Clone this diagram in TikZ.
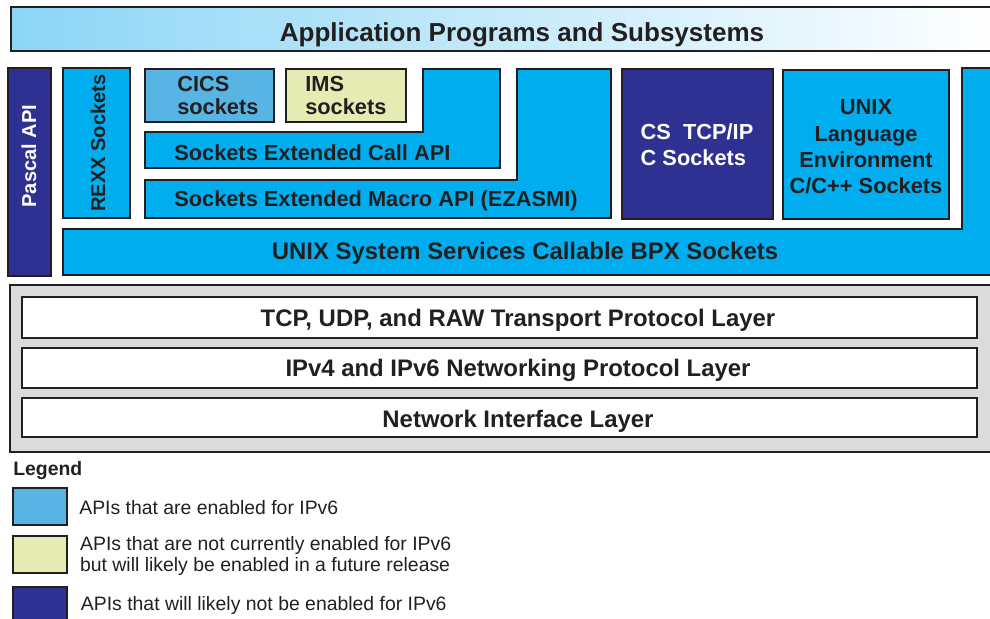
\documentclass[tikz,border=0pt]{standalone}
\usepackage{fontspec}
\setmainfont{Liberation Sans}
\usetikzlibrary{positioning}
\definecolor{edgec}{HTML}{231F20}
\definecolor{cyanapi}{HTML}{00AEEF}
\definecolor{lightapi}{HTML}{58B4E3}
\definecolor{paleapi}{HTML}{E6EBB4}
\definecolor{navyapi}{HTML}{2E3192}
\definecolor{layergray}{HTML}{DADBDC}
\definecolor{titleblue}{HTML}{8CD6F6}
\begin{document}
\begin{tikzpicture}[x=0.025cm, y=-0.025cm,
            api/.style={draw=edgec, line width=1.3pt},
            boxtext/.style={text=edgec, inner sep=0pt, font=\bfseries\fontsize{15.5}{18.5}\selectfont},
            sidetext/.style={text=edgec, inner sep=0pt, rotate=90, font=\bfseries\fontsize{14.3}{17}\selectfont},
            bigtext/.style={text=edgec, inner sep=0pt, font=\bfseries\fontsize{17}{20}\selectfont},
            keytext/.style={text=edgec, inner sep=0pt, font=\fontsize{13.8}{14.9}\selectfont},
            legendkey/.style={draw=edgec, line width=1.3pt, minimum width=1.35cm, minimum height=0.93cm, anchor=north west, inner sep=0pt},
        ]
            \useasboundingbox (0,0) rectangle (990,618);
            \clip (0,0) rectangle (990,618);
            \draw[api, left color=titleblue, right color=white] (11,7) rectangle (1000,51);
            \node[bigtext, font=\bfseries\fontsize{18.5}{22}\selectfont] (titlenode) at (522,35) {Application Programs and Subsystems};

            \draw[api, fill=navyapi] (8,68) rectangle (51,276);
            \node[sidetext, text=white] (pascalnode) at (29,156) {Pascal API};
            \draw[api, fill=cyanapi] (63,68) rectangle (130,218);
            \node[sidetext] (rexxnode) at (98,143) {REXX Sockets};
            \draw[api, fill=lightapi] (145,69) rectangle (274,122);
            \node[boxtext, anchor=west, font=\bfseries\fontsize{15.5}{16.4}\selectfont] (cicsnode) at (177,98) {\begin{tabular}{@{}l@{}} CICS \\ sockets \end{tabular}};
            \draw[api, fill=paleapi] (286,69) rectangle (406,122);
            \node[boxtext, anchor=west, font=\bfseries\fontsize{15.5}{16.4}\selectfont] (imsnode) at (305,98) {\begin{tabular}{@{}l@{}} IMS \\ sockets \end{tabular}};
            \draw[api, fill=cyanapi] (145,132) -- (423,132) -- (423,69) -- (500,69) -- (500,168) -- (145,168) -- cycle;
            \node[boxtext, anchor=west] (callnode) at (174,153) {Sockets Extended Call API};
            \draw[api, fill=cyanapi] (145,180) -- (517,180) -- (517,69) -- (611,69) -- (611,218) -- (145,218) -- cycle;
            \node[boxtext, anchor=west] (macronode) at (174,201) {Sockets Extended Macro API (EZASMI)};
            \draw[api, fill=navyapi] (622,69) rectangle (773,219);
            \node[boxtext, text=white] (csnode) at (697,147) {\begin{tabular}{@{}l@{}} CS\ \ TCP/IP \\ C Sockets \end{tabular}};
            \draw[api, fill=cyanapi] (783,70) rectangle (949,219);
            \node[boxtext, font=\bfseries\fontsize{15.5}{18.7}\selectfont] (lenode) at (866,149) {\begin{tabular}{@{}c@{}} UNIX \\ Language \\ Environment \\ C/C++ Sockets \end{tabular}};
            \draw[api, fill=cyanapi] (63,229) -- (962,229) -- (962,68) -- (1000,68) -- (1000,275) -- (63,275) -- cycle;
            \node[bigtext] (bpxnode) at (525,253) {UNIX System Services Callable BPX Sockets};

            \draw[api, fill=layergray] (10,285) rectangle (1000,452);
            \draw[api, fill=white] (22,297) rectangle (977,338);
            \node[bigtext] (tcpnode) at (518,320) {TCP, UDP, and RAW Transport Protocol Layer};
            \draw[api, fill=white] (22,348) rectangle (977,388);
            \node[bigtext] (ipnode) at (518,370) {IPv4 and IPv6 Networking Protocol Layer};
            \draw[api, fill=white] (22,398) rectangle (977,437);
            \node[bigtext] (netnode) at (518,421) {Network Interface Layer};

            \node[keytext, font=\bfseries\fontsize{13.8}{16}\selectfont, anchor=west] (legendnode) at (13,471) {Legend};
            \node[legendkey, fill=lightapi] (enabledkey) at (12,487) {};
            \node[keytext, right=0.28cm of enabledkey, yshift=-0.03cm] (enabledtext) {APIs that are enabled for IPv6};
            \node[legendkey, fill=paleapi] (futurekey) at (12,535) {};
            \node[keytext, right=0.3cm of futurekey, yshift=-0.05cm] (futuretext) {\begin{tabular}{@{}l@{}} APIs that are not currently enabled for IPv6 \\ but will likely be enabled in a future release \end{tabular}};
            \node[legendkey, fill=navyapi] (notkey) at (12,586) {};
            \node[keytext, right=0.32cm of notkey] (nottext) {APIs that will likely not be enabled for IPv6};
        \end{tikzpicture}
\end{document}
